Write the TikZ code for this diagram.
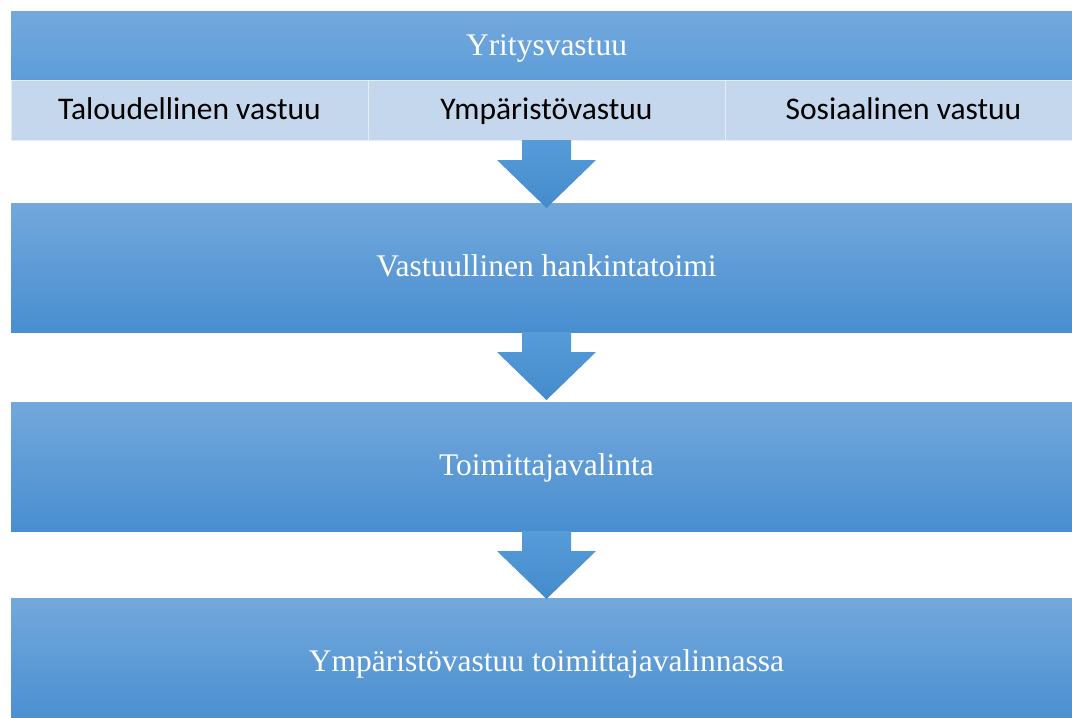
\documentclass[tikz,border=0pt]{standalone}
\usepackage{fontspec}
\setmainfont{Liberation Serif}
\newfontfamily\cellfont{Carlito}
\usetikzlibrary{calc,positioning}
\definecolor{skytop}{RGB}{115,168,220}
\definecolor{skymid}{RGB}{93,157,218}
\definecolor{skybot}{RGB}{72,142,208}
\definecolor{arrtop}{RGB}{86,156,217}
\definecolor{arrbot}{RGB}{68,139,204}
\definecolor{paleblue}{RGB}{197,215,236}

\begin{document}
\begin{tikzpicture}[x=1pt, y=-1pt,
  every node/.style={inner sep=0pt, outer sep=0pt},
  band/.style={top color=skytop, middle color=skymid!90!skytop, bottom color=skymid, minimum width=1071pt, minimum height=69pt, text=white, font=\fontsize{31.5}{36}\selectfont, text height=21pt, text depth=2pt},
  cell/.style={fill=paleblue, draw=white!55!paleblue, line width=0.8pt, minimum width=357pt, minimum height=60pt, font=\cellfont\fontsize{31.5}{36}\selectfont, text height=20.5pt, text depth=2.5pt},
  stage/.style={top color=skytop, middle color=skymid, bottom color=skybot, minimum width=1071pt, minimum height=129pt, text=white, font=\fontsize{31.5}{36}\selectfont, text height=21pt, text depth=2.5pt},
  blockarr/.style={top color=arrtop, bottom color=arrbot, to path={-- ++(-24.5,0) -- ++(0,20) -- ++(-25,0) -- ($(\tikztostart)+(0,68)$) -- ++(49.5,-48) -- ++(-25,0) -- ++(0,-20) -- cycle}}]
\useasboundingbox (0,0) rectangle (1072,718);
\clip (0,0) rectangle (1072,718);
% top frame with its three parts
\node[band] (top) at (546.5,45.5) {Yritysvastuu};
\node[cell, anchor=north west] (econ) at (top.south west) {Taloudellinen vastuu};
\node[cell, right=0pt of econ] (env) {Ympäristövastuu};
\node[cell, right=0pt of env] (soc) {Sosiaalinen vastuu};
% stages
\node[stage, below=63pt of env] (proc) {Vastuullinen hankintatoimi};
\node[stage, below=70pt of proc] (supp) {Toimittajavalinta};
\node[stage, below=67pt of supp] (envsel) {Ympäristövastuu toimittajavalinnassa};
% block arrows
\shade[blockarr] (env.south) to (proc.north);
\shade[blockarr] (proc.south) to (supp.north);
\shade[blockarr] (supp.south) to (envsel.north);
\end{tikzpicture}
\end{document}
